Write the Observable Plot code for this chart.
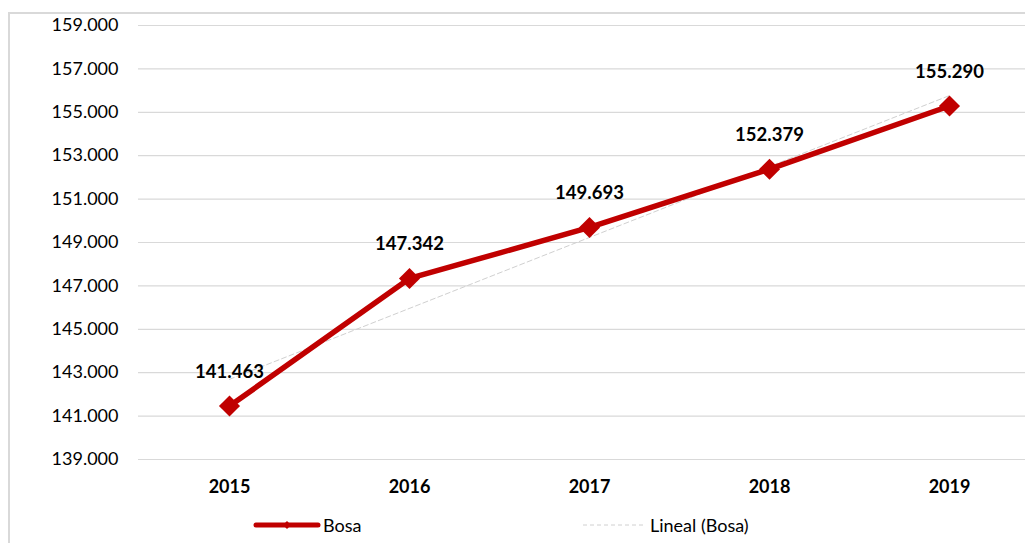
<!DOCTYPE html>
<html>
<head>
<meta charset="utf-8">
<script src="https://cdn.jsdelivr.net/npm/d3@7"></script>
<script src="https://cdn.jsdelivr.net/npm/@observablehq/plot@0.6"></script>
<style>
  html, body { margin: 0; padding: 0; background: #fff; }
  #wrap { position: relative; width: 1025px; height: 543px; overflow: hidden; font-family: Lato, "Noto Sans", sans-serif; }
  #frame { position: absolute; left: 8px; top: 12px; width: 1100px; height: 600px; border-left: 2px solid #d9d9d9; border-top: 2px solid #d9d9d9; }
  #chart { position: absolute; left: 0; top: 0; }
  #legend { position: absolute; left: 0; top: 510px; width: 1025px; height: 30px; font-size: 18px; color: #000; }
  .li { position: absolute; top: 0; display: flex; align-items: center; height: 30px; }
</style>
</head>
<body>
<div id="wrap">
  <div id="frame"></div>
  <div id="chart"></div>
  <div id="legend">
    <div class="li" style="left:253px">
      <svg width="68" height="30"><line x1="3" y1="15" x2="65" y2="15" stroke="#C00000" stroke-width="5" stroke-linecap="round"/><path d="M34,11 L38,15 L34,19 L30,15 Z" fill="#C00000"/></svg>
      <span style="margin-left:2px">Bosa</span>
    </div>
    <div class="li" style="left:582px">
      <svg width="64" height="30"><line x1="1" y1="15" x2="62" y2="15" stroke="#d0d0d0" stroke-width="1" stroke-dasharray="4,3"/></svg>
      <span style="margin-left:4px">Lineal (Bosa)</span>
    </div>
  </div>
</div>
<script>
const years = [2015, 2016, 2017, 2018, 2019];
const values = [141463, 147342, 149693, 152379, 155290];
const yTicks = [139000, 141000, 143000, 145000, 147000, 149000, 151000, 153000, 155000, 157000, 159000];

const data = years.map((y, i) => ({year: y, value: values[i]}));
const loc = d3.formatLocale({decimal: ",", thousands: ".", grouping: [3], currency: ["", ""]});
const fmt = loc.format(",.0f");

const font = "Lato, 'Noto Sans', sans-serif";

const chart = Plot.plot({
  width: 1025,
  height: 500,
  marginTop: 25,
  marginBottom: 41,
  marginLeft: 138,
  marginRight: 0,
  style: {fontFamily: font, fontSize: "18px", color: "#000", background: "transparent"},
  x: {type: "linear", domain: [2015, 2019], range: [229, 949]},
  y: {domain: [139000, 159000]},
  marks: [
    Plot.ruleY(yTicks, {stroke: "#d9d9d9", strokeWidth: 1.2, strokeOpacity: 1}),
    Plot.axisY({ticks: yTicks, tickFormat: fmt, tickSize: 0, tickPadding: 20, fontSize: 18, label: null}),
    Plot.axisX({ticks: years, tickFormat: d => String(d), tickSize: 0, tickPadding: 21, fontWeight: "bold", fontSize: 18, label: null}),
    Plot.linearRegressionY(data, {x: "year", y: "value", stroke: "#d0d0d0", strokeWidth: 1, strokeDasharray: "5,3", ci: 0}),
    Plot.line(data, {x: "year", y: "value", stroke: "#C00000", strokeWidth: 5.5}),
    Plot.dot(data, {x: "year", y: "value", symbol: "diamond2", r: 9.5, fill: "#C00000", stroke: "none"}),
    Plot.text(data, {x: "year", y: "value", text: d => fmt(d.value), dy: -34, fontWeight: "bold", fontSize: 18.5, fill: "#000"})
  ]
});
document.getElementById("chart").appendChild(chart);
</script>
</body>
</html>
